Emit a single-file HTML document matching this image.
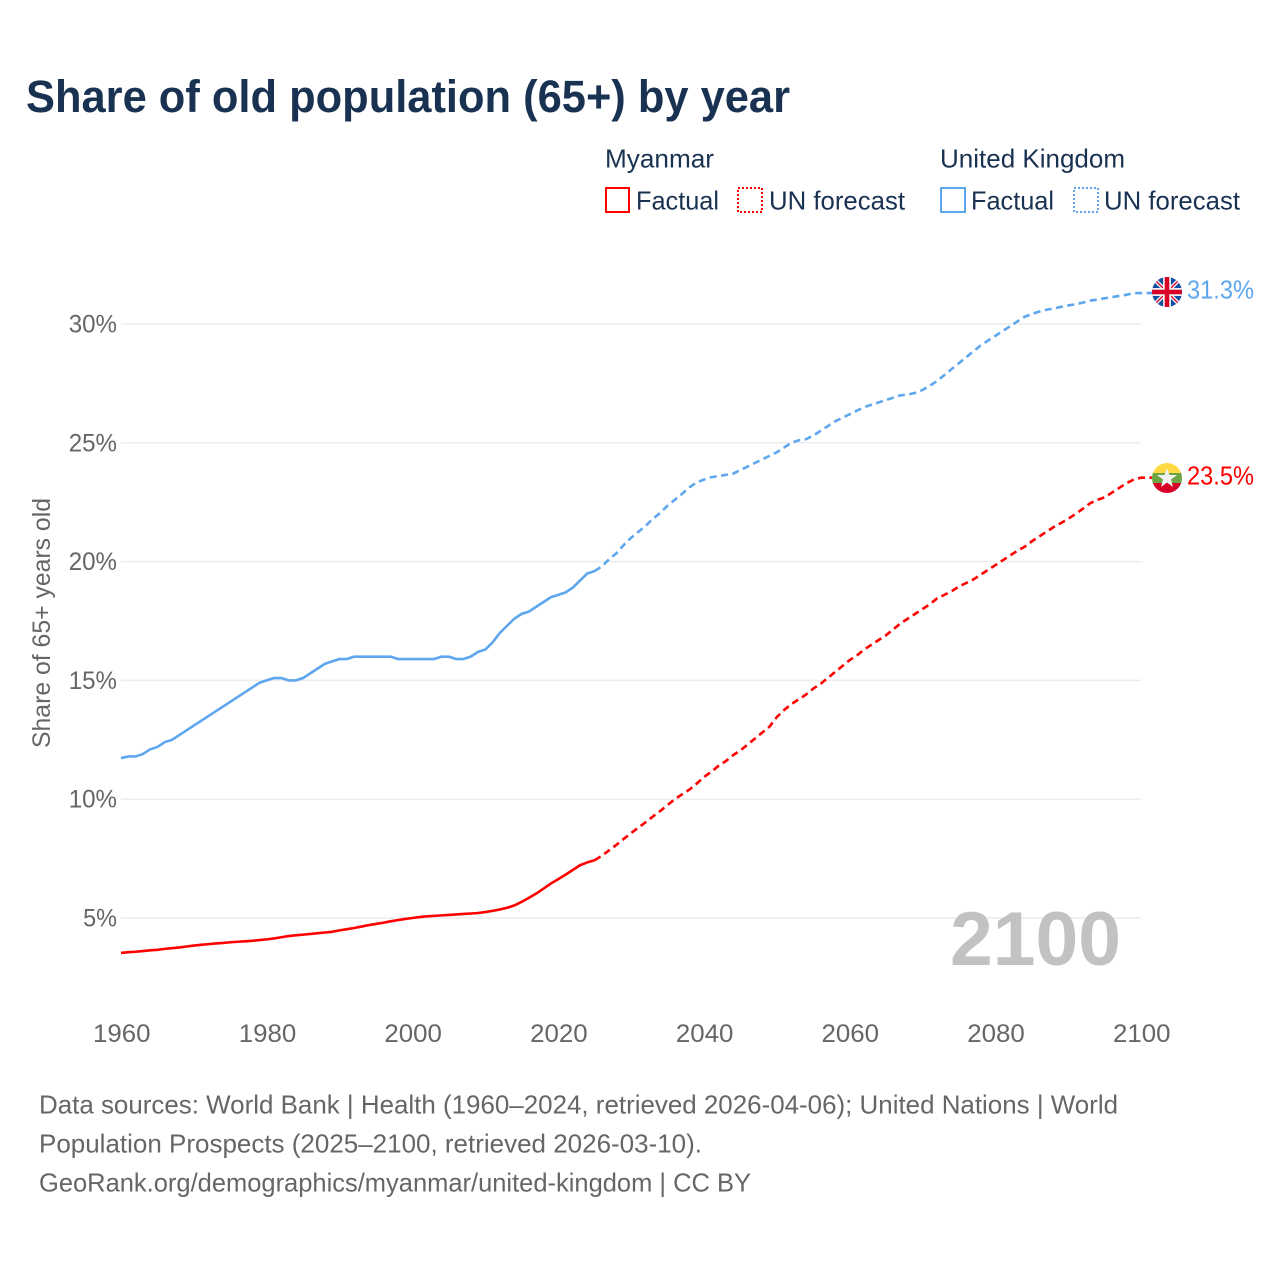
<!DOCTYPE html>
<html lang="en">
<head>
<meta charset="utf-8">
<title>Share of old population (65+) by year</title>
<style>
html,body{margin:0;padding:0;background:#fff;width:1280px;height:1280px;overflow:hidden}
svg{display:block;font-family:"Liberation Sans",sans-serif}
</style>
</head>
<body>
<svg id="chart" width="1280" height="1280" viewBox="0 0 1280 1280" xmlns="http://www.w3.org/2000/svg">
<defs>
<clipPath id="flag-uk-clip"><circle cx="1167" cy="292" r="15"/></clipPath>
<clipPath id="flag-mm-clip"><circle cx="1167" cy="478" r="15"/></clipPath>
</defs>
<rect width="1280" height="1280" fill="#fff"/>
<text x="26" y="112" font-size="45" font-weight="700" fill="#1a3252" textLength="764" lengthAdjust="spacingAndGlyphs">Share of old population (65+) by year</text>

<g font-size="26" fill="#1a3252">
<text x="605" y="167.5" textLength="109" lengthAdjust="spacingAndGlyphs">Myanmar</text>
<text x="940" y="167.5" textLength="185" lengthAdjust="spacingAndGlyphs">United Kingdom</text>
<rect x="606" y="188" width="23" height="24" fill="none" stroke="#ff0000" stroke-width="2"/>
<text x="636" y="209.5" textLength="83" lengthAdjust="spacingAndGlyphs">Factual</text>
<rect x="738" y="188" width="24" height="24" fill="none" stroke="#ff0000" stroke-width="2" stroke-dasharray="2 2"/>
<text x="769" y="209.5" textLength="136" lengthAdjust="spacingAndGlyphs">UN forecast</text>
<rect x="941" y="188" width="24" height="24" fill="none" stroke="#5ea6ee" stroke-width="2"/>
<text x="971" y="209.5" textLength="83" lengthAdjust="spacingAndGlyphs">Factual</text>
<rect x="1074" y="188" width="24" height="24" fill="none" stroke="#5ea6ee" stroke-width="2" stroke-dasharray="2 2"/>
<text x="1104" y="209.5" textLength="136" lengthAdjust="spacingAndGlyphs">UN forecast</text>
</g>

<g id="grid"></g>
<g id="y-ticks" font-size="25" fill="#666"></g>
<g id="x-ticks" font-size="25" fill="#666"></g>
<text transform="translate(50,748) rotate(-90)" font-size="25" fill="#666" textLength="250" lengthAdjust="spacingAndGlyphs">Share of 65+ years old</text>

<text x="950" y="965" font-size="76" font-weight="700" fill="#c2c2c2" textLength="171" lengthAdjust="spacingAndGlyphs">2100</text>

<g id="series"></g>

<g clip-path="url(#flag-uk-clip)">
<rect x="1152" y="277" width="30" height="30" fill="#0b4ea2"/>
<path d="M1152 277L1182 307M1182 277L1152 307" stroke="#f0f0f0" stroke-width="4"/>
<path d="M1152 277L1182 307M1182 277L1152 307" stroke="#d80027" stroke-width="1.3"/>
<path d="M1167 277V307M1152 292H1182" stroke="#f0f0f0" stroke-width="8"/>
<path d="M1167 277V307M1152 292H1182" stroke="#d80027" stroke-width="4.5"/>
</g>
<g clip-path="url(#flag-mm-clip)">
<rect x="1152" y="463" width="30" height="11" fill="#ffda44"/>
<rect x="1152" y="473" width="30" height="11" fill="#6da544"/>
<rect x="1152" y="483" width="30" height="10" fill="#d80027"/>
<polygon points="1167,468 1169.5,475 1177,475 1171,479.5 1173,487 1167,482.5 1161,487 1163,479.5 1157,475 1164.5,475" fill="#f0f0f0"/>
</g>
<text x="1187" y="298.5" font-size="26" fill="#5ea6ee" textLength="67" lengthAdjust="spacingAndGlyphs">31.3%</text>
<text x="1187" y="484.5" font-size="26" fill="#ff0000" textLength="67" lengthAdjust="spacingAndGlyphs">23.5%</text>

<g font-size="26" fill="#666">
<text x="39" y="1113.5" textLength="1079" lengthAdjust="spacingAndGlyphs">Data sources: World Bank | Health (1960–2024, retrieved 2026-04-06); United Nations | World</text>
<text x="39" y="1152.5" textLength="663" lengthAdjust="spacingAndGlyphs">Population Prospects (2025–2100, retrieved 2026-03-10).</text>
<text x="39" y="1191.5" textLength="712" lengthAdjust="spacingAndGlyphs">GeoRank.org/demographics/myanmar/united-kingdom | CC BY</text>
</g>
</svg>
<script>
const firstYear = 1960;
const lastFactualYear = 2025;
const xTickYears = [1960, 1980, 2000, 2020, 2040, 2060, 2080, 2100];
const yTickValues = [5, 10, 15, 20, 25, 30];
const yTickLabels = ["5%", "10%", "15%", "20%", "25%", "30%"];
const ukValues = [
11.73,11.8,11.8,11.9,12.1,12.2,12.4,12.5,12.7,12.9,
13.1,13.3,13.5,13.7,13.9,14.1,14.3,14.5,14.7,14.9,
15.0,15.1,15.1,15.0,15.0,15.1,15.3,15.5,15.7,15.8,
15.9,15.9,16.0,16.0,16.0,16.0,16.0,16.0,15.9,15.9,
15.9,15.9,15.9,15.9,16.0,16.0,15.9,15.9,16.0,16.2,
16.3,16.6,17.0,17.3,17.6,17.8,17.9,18.1,18.3,18.5,
18.6,18.7,18.9,19.2,19.5,19.6,
19.8,20.1,20.35,20.7,21.0,21.25,21.5,21.8,22.05,22.35,
22.6,22.85,23.12,23.33,23.45,23.55,23.6,23.65,23.7,23.85,
24.0,24.15,24.3,24.45,24.6,24.8,25.0,25.1,25.15,25.3,
25.5,25.7,25.9,26.05,26.2,26.35,26.5,26.6,26.7,26.8,
26.9,27.0,27.03,27.1,27.22,27.4,27.6,27.85,28.1,28.35,
28.6,28.85,29.1,29.3,29.5,29.7,29.9,30.1,30.3,30.42,
30.52,30.6,30.65,30.72,30.78,30.83,30.9,30.98,31.03,31.08,
31.13,31.18,31.23,31.3,31.3
];
const myanmarValues = [
3.53,3.56,3.58,3.61,3.64,3.66,3.70,3.73,3.76,3.80,
3.84,3.87,3.90,3.93,3.95,3.98,4.00,4.02,4.04,4.07,
4.10,4.14,4.19,4.24,4.27,4.30,4.33,4.36,4.39,4.42,
4.48,4.53,4.58,4.64,4.70,4.75,4.80,4.86,4.91,4.96,
5.00,5.04,5.07,5.09,5.11,5.13,5.15,5.17,5.19,5.21,
5.25,5.30,5.36,5.43,5.53,5.68,5.85,6.03,6.24,6.45,
6.63,6.82,7.02,7.22,7.34,7.43,
7.62,7.85,8.08,8.33,8.57,8.8,9.03,9.27,9.5,9.75,
10.0,10.2,10.4,10.65,10.93,11.15,11.4,11.6,11.85,12.05,
12.3,12.55,12.8,13.05,13.45,13.75,14.0,14.2,14.4,14.65,
14.85,15.1,15.35,15.6,15.85,16.05,16.3,16.5,16.7,16.9,
17.15,17.4,17.6,17.8,18.0,18.2,18.45,18.6,18.75,18.95,
19.1,19.25,19.45,19.65,19.85,20.05,20.25,20.45,20.62,20.85,
21.05,21.25,21.45,21.62,21.8,22.0,22.22,22.45,22.6,22.7,
22.9,23.1,23.3,23.45,23.53
];

const SVG_NS = "http://www.w3.org/2000/svg";
const plotLeft = 121, plotRight = 1141, flagEdge = 1152;
function xScale(year) { return plotLeft + (year - 1960) * (plotRight - plotLeft) / 140; }
function yScale(v) { return 918 - (v - 5) * 23.76; }
function pathFor(values, fromYear, toYear, extend) {
  let d = "";
  for (let y = fromYear; y <= toYear; y++) {
    d += (d ? "L" : "M") + xScale(y).toFixed(2) + " " + yScale(values[y - firstYear]).toFixed(2);
  }
  if (extend) d += "H" + flagEdge;
  return d;
}

const grid = document.getElementById("grid");
const yTicks = document.getElementById("y-ticks");
yTickValues.forEach(function (v, i) {
  const line = document.createElementNS(SVG_NS, "line");
  
  
  line.setAttribute("x1", plotLeft);
  line.setAttribute("x2", plotRight);
  line.setAttribute("y1", yScale(v));
  line.setAttribute("y2", yScale(v));
  line.setAttribute("stroke", "#ececec");
  line.setAttribute("stroke-width", "1.5");
  grid.appendChild(line);

  const label = yTickLabels[i];
  const t = document.createElementNS(SVG_NS, "text");
  
  
  const width = (label.length - 1) * 14.4 + 19.5;
  t.setAttribute("x", 117 - width);
  t.setAttribute("y", yScale(v) + 8.5);
  t.setAttribute("textLength", width);
  t.setAttribute("lengthAdjust", "spacingAndGlyphs");
  t.textContent = label;
  yTicks.appendChild(t);
});

const xTicks = document.getElementById("x-ticks");
xTickYears.forEach(function (year) {
  const t = document.createElementNS(SVG_NS, "text");
  
  
  t.setAttribute("x", xScale(year) - 28);
  t.setAttribute("y", 1042);
  t.setAttribute("textLength", 57.5);
  t.setAttribute("lengthAdjust", "spacingAndGlyphs");
  t.textContent = String(year);
  xTicks.appendChild(t);
});

const seriesGroup = document.getElementById("series");
function addLine(name, values, color, from, to, dashed, extend) {
  const p = document.createElementNS(SVG_NS, "path");
  
  
  p.setAttribute("d", pathFor(values, from, to, extend));
  p.setAttribute("fill", "none");
  p.setAttribute("stroke", color);
  p.setAttribute("stroke-width", "2.6");
  p.setAttribute("stroke-linejoin", "round");
  if (dashed) p.setAttribute("stroke-dasharray", "7 4.5");
  seriesGroup.appendChild(p);
}
addLine('line-uk-factual', ukValues, "#5ea6ee", firstYear, lastFactualYear, false, false);
addLine('line-uk-forecast', ukValues, "#5ea6ee", lastFactualYear, 2100, true, true);
addLine('line-myanmar-factual', myanmarValues, "#ff0000", firstYear, lastFactualYear, false, false);
addLine('line-myanmar-forecast', myanmarValues, "#ff0000", lastFactualYear, 2100, true, true);
</script>
</body>
</html>
